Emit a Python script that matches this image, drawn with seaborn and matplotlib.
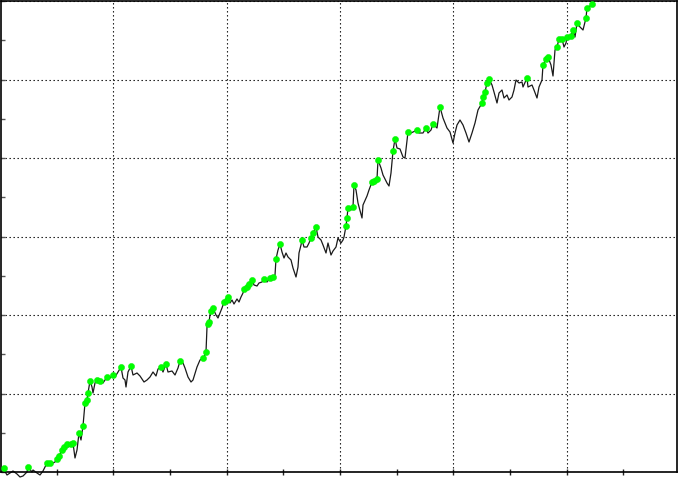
import matplotlib
matplotlib.use("Agg")
import matplotlib.pyplot as plt
from matplotlib.ticker import MultipleLocator
import seaborn as sns
import pandas as pd

# balance curve (x = deal position, y = balance level)
deal = [3, 7, 10, 13, 17, 20, 23, 27, 28, 32, 33, 37, 40, 43, 47, 50, 53, 55, 57, 59,
        62, 64, 67, 68, 71, 73, 75, 77, 79, 81, 83, 85, 87, 88, 90, 92, 93, 95, 97, 100,
        103, 107, 110, 113, 115, 118, 121, 123, 125, 126, 128, 131, 133, 137, 140, 144, 147, 150, 153, 156,
        158, 161, 163, 166, 168, 172, 175, 178, 180, 183, 185, 188, 191, 193, 197, 200, 203, 204, 206, 207,
        208, 209, 210, 211, 213, 216, 218, 220, 222, 224, 227, 228, 230, 232, 234, 237, 239, 241, 243, 244,
        247, 249, 252, 254, 257, 259, 262, 264, 267, 270, 273, 275, 276, 278, 280, 282, 284, 286, 288, 291,
        293, 296, 298, 299, 301, 302, 304, 307, 309, 311, 313, 316, 318, 321, 323, 326, 328, 331, 333, 336,
        338, 341, 343, 344, 346, 347, 348, 351, 353, 354, 356, 358, 362, 363, 367, 369, 372, 374, 377, 378,
        381, 383, 387, 389, 391, 393, 395, 397, 400, 403, 405, 407, 408, 411, 417, 419, 423, 426, 428, 431,
        433, 437, 440, 443, 447, 450, 453, 455, 457, 460, 463, 466, 469, 472, 475, 478, 482, 483, 485, 487,
        489, 492, 494, 497, 499, 502, 504, 507, 509, 512, 514, 516, 519, 522, 523, 527, 528, 532, 534, 537,
        539, 542, 543, 546, 548, 551, 553, 555, 557, 559, 562, 564, 566, 567, 571, 573, 575, 577, 580, 583,
        586, 587, 589, 592]
balance = [4, -3, -1, 1, -2, -5, -4, 0, 5, 0, 2, -1, -3, 1, 9, 9, 9, 10, 13, 16,
           22, 25, 28, 25, 28, 29, 14, 22, 39, 32, 46, 69, 72, 79, 91, 85, 79, 89, 92, 91,
           89, 95, 94, 97, 95, 100, 105, 94, 92, 85, 100, 106, 97, 99, 96, 90, 92, 95, 100, 96,
           103, 105, 100, 108, 100, 101, 97, 104, 111, 109, 104, 95, 90, 92, 105, 112, 114, 115, 120, 145,
           148, 150, 157, 161, 164, 157, 154, 159, 164, 170, 172, 175, 169, 172, 168, 173, 170, 175, 179, 183,
           185, 188, 192, 187, 186, 189, 190, 193, 190, 194, 195, 197, 213, 222, 228, 220, 214, 219, 215, 212,
           204, 195, 205, 219, 227, 232, 225, 225, 229, 234, 239, 245, 235, 232, 227, 219, 229, 217, 221, 225,
           234, 229, 232, 235, 246, 254, 264, 262, 265, 287, 282, 269, 254, 267, 276, 282, 290, 291, 293, 312,
           304, 297, 289, 286, 299, 321, 333, 324, 323, 315, 314, 332, 340, 339, 342, 339, 339, 344, 339, 342,
           348, 344, 365, 354, 344, 340, 329, 339, 347, 352, 347, 339, 330, 339, 349, 362, 369, 375, 380, 389,
           393, 387, 380, 369, 379, 382, 374, 377, 372, 375, 382, 392, 389, 390, 385, 394, 385, 387, 382, 374,
           385, 392, 407, 413, 415, 407, 396, 422, 425, 433, 433, 425, 429, 435, 436, 442, 435, 449, 445, 442,
           454, 464, 465, 468]

# green markers
mark_deal = [4, 28, 47, 50, 57, 59, 62, 64, 67, 71, 73, 79, 83, 85, 87, 88, 90, 97, 100, 107,
             113, 121, 131, 161, 166, 180, 203, 206, 208, 209, 211, 213, 224, 227, 228, 244, 247, 249, 252, 264,
             270, 273, 276, 280, 302, 311, 313, 316, 346, 347, 348, 353, 354, 372, 374, 377, 378, 393, 395, 408,
             417, 426, 433, 440, 482, 483, 485, 487, 489, 527, 543, 546, 548, 557, 559, 562, 567, 571, 573, 577,
             586, 587, 592]
mark_balance = [4, 5, 9, 9, 13, 16, 22, 25, 28, 28, 29, 39, 46, 69, 72, 79, 91, 92, 91, 95,
                97, 105, 106, 105, 108, 111, 114, 120, 148, 150, 161, 164, 170, 172, 175, 183, 185, 188, 192, 193,
                194, 195, 213, 228, 232, 234, 239, 245, 246, 254, 264, 265, 287, 290, 291, 293, 312, 321, 333, 340,
                342, 344, 348, 365, 369, 375, 380, 389, 393, 394, 407, 413, 415, 425, 433, 433, 435, 436, 442, 449,
                454, 464, 468]

curve = pd.DataFrame({"deal": deal, "balance": balance})
marks = pd.DataFrame({"deal": mark_deal, "balance": mark_balance})

sns.set_style("white")
fig = plt.figure(figsize=(6.8, 4.78), dpi=100)
ax = fig.add_axes([1 / 680, 6 / 478, 676 / 680, 471 / 478])

sns.lineplot(data=curve, x="deal", y="balance", color="#1a1a1a", linewidth=0.9, ax=ax)
for l in ax.lines:
    l.set_clip_on(False)
sns.scatterplot(data=marks, x="deal", y="balance", color="#00ff00", edgecolor="#00ee00",
                s=20, linewidth=0.3, zorder=3, ax=ax)

ax.set_xlim(1, 677)
ax.set_ylim(0, 471)
ax.xaxis.set_major_locator(MultipleLocator(680 / 6))
ax.xaxis.set_minor_locator(MultipleLocator(680 / 12))
ax.yaxis.set_major_locator(MultipleLocator(78.5))
ax.yaxis.set_minor_locator(MultipleLocator(78.5 / 2))
ax.grid(True, which="major", color="black", linestyle=(0, (1.2, 2.4)), linewidth=0.8)
ax.tick_params(axis="x", which="both", direction="inout", length=5, width=1, color="#222222",
               bottom=True, labelbottom=False)
ax.tick_params(axis="y", which="both", direction="in", length=3, width=1, color="#555555",
               left=True, labelleft=False)
ax.set_xlabel("")
ax.set_ylabel("")
for side in ax.spines.values():
    side.set_color("black")
    side.set_linewidth(1.2)

fig.savefig("out.png", dpi=100)
